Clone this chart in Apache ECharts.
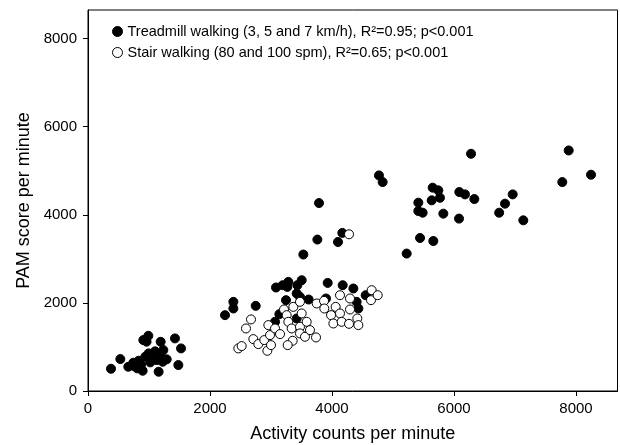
<!DOCTYPE html>
<html>
<head>
<meta charset="utf-8">
<script src="https://cdn.jsdelivr.net/npm/echarts@6/dist/echarts.min.js"></script>
<style>html,body{margin:0;padding:0;background:#fff;}#c{width:620px;height:445px;}</style>
</head>
<body>
<div id="c"></div>
<script>
const xTicks = [0, 2000, 4000, 6000, 8000];
const yTicks = [0, 2000, 4000, 6000, 8000];
const seriesNames = [
  'Treadmill walking (3, 5 and 7 km/h), R²=0.95; p<0.001',
  'Stair walking (80 and 100 spm), R²=0.65; p<0.001'
];
const treadmill = [
  [377,505],[530,725],[661,551],[743,642],[808,514],[831,687],[896,460],[907,1156],[989,1253],[960,1120],
  [995,854],[1050,780],[1071,741],[1100,900],[1126,702],[1158,437],[1180,816],[1191,1117],[1224,664],[1235,929],
  [1290,718],[1426,1194],[1481,589],[1525,967],[870,600],[940,780],[1020,650],[760,560],
  [2246,1722],[2383,1873],[2383,2024],[2749,1933],[3082,2350],[3191,2402],[3284,2477],[3267,2363],[3432,2402],
  [3503,2515],[3421,2214],[3475,2137],[3246,2062],[3617,2077],[3929,2454],[4175,2402],[4350,2327],[4552,2175],
  [4404,2024],[4432,1873],[3902,2100],[3137,1745],[3066,1571],[3421,1647],
  [3530,3098],[3760,3438],[3787,4267],[4098,3383],[4169,3589],[4770,4895],[4830,4743],[5224,3120],[5415,4276],
  [5415,4086],[5486,4048],[5443,3474],[5634,4328],[5650,4616],[5661,3405],[5743,4555],[5770,4387],[5825,4026],
  [6082,3914],[6087,4517],[6180,4464],[6279,5386],[6333,4358],[6740,4048],[6836,4253],[6962,4464],[7136,3875],
  [7775,4743],[7880,5461],[8246,4910]
];
const stair = [
  [2464,967],[2519,1020],[2590,1420],[2672,1625],[2710,1178],[2792,1065],[2890,1156],[2940,913],[3000,1042],
  [2984,1269],[2956,1496],[3066,1420],[3148,1292],[3213,1851],[3257,1722],[3284,1571],[3339,1420],[3366,1910],
  [3475,2024],[3503,1761],[3475,1458],[3355,1140],[3273,1042],[3475,1307],[3557,1231],[3585,1571],[3639,1382],
  [3738,1216],[3749,1987],[3869,2046],[3874,1873],[3984,1722],[4022,1533],[4060,1910],[4131,2175],[4131,1761],
  [4158,1571],[4295,1851],[4295,2100],[4279,1525],[4415,1647],[4432,1496],[4639,2062],[4650,2289],[4749,2175],
  [4279,3558]
];
const FONT = '"Liberation Sans", Arial, sans-serif';
const plain = v => String(v);
const chart = echarts.init(document.getElementById('c'), null, {renderer: 'canvas'});
chart.setOption({
  animation: false,
  backgroundColor: '#fff',
  grid: {left: 88, right: 2.5, top: 10, bottom: 54, show: true, borderColor: '#000', borderWidth: 1,
         containLabel: false, outerBoundsMode: 'none'},
  legend: {
    orient: 'vertical', left: 107, top: 19, itemWidth: 10, itemHeight: 10, itemGap: 6,
    textStyle: {fontFamily: FONT, fontSize: 14.5, color: '#000'},
    data: [
      {name: seriesNames[0], icon: 'circle', itemStyle: {color: '#000', borderColor: '#000', borderWidth: 1}},
      {name: seriesNames[1], icon: 'circle', itemStyle: {color: '#fff', borderColor: '#000', borderWidth: 1}}
    ]
  },
  xAxis: {
    type: 'value', min: 0, max: 8680,
    name: 'Activity counts per minute', nameLocation: 'middle', nameGap: 34,
    nameTextStyle: {fontFamily: FONT, fontSize: 18, color: '#000'},
    axisLine: {show: true, lineStyle: {color: '#000', width: 1}},
    axisTick: {show: true, inside: false, length: 5, customValues: xTicks, lineStyle: {color: '#000'}},
    axisLabel: {customValues: xTicks, formatter: plain, margin: 10, fontFamily: FONT, fontSize: 15, color: '#000'},
    splitLine: {show: false}
  },
  yAxis: {
    type: 'value', min: 0, max: 8650,
    name: 'PAM score per minute', nameLocation: 'middle', nameGap: 47, nameRotate: 90,
    nameTextStyle: {fontFamily: FONT, fontSize: 18, color: '#000'},
    axisLine: {show: true, lineStyle: {color: '#000', width: 1}},
    axisTick: {show: true, inside: false, length: 5, customValues: yTicks, lineStyle: {color: '#000'}},
    axisLabel: {customValues: yTicks, formatter: plain, margin: 11, fontFamily: FONT, fontSize: 15, color: '#000'},
    splitLine: {show: false}
  },
  series: [
    {name: seriesNames[0], type: 'scatter', data: treadmill, symbol: 'circle', symbolSize: 9,
     itemStyle: {color: '#000', borderColor: '#000', borderWidth: 1, opacity: 1}},
    {name: seriesNames[1], type: 'scatter', data: stair, symbol: 'circle', symbolSize: 9,
     itemStyle: {color: '#fff', borderColor: '#000', borderWidth: 1, opacity: 1}}
  ]
});
</script>
</body>
</html>
